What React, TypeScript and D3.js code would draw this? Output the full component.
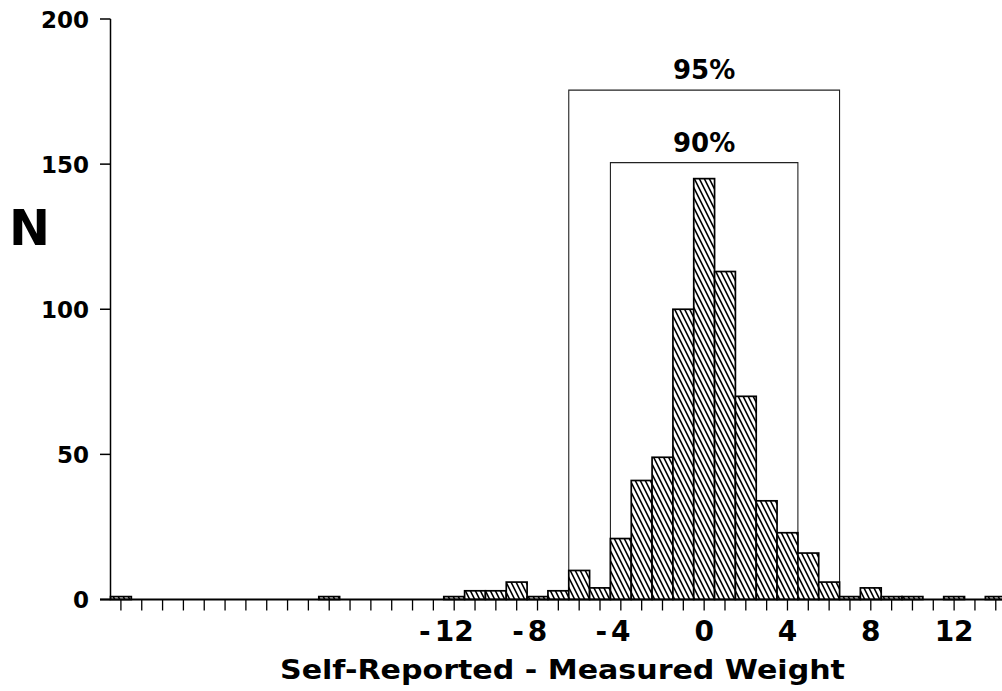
import React from "react";
import * as d3 from "d3";

// ---- data ----
const binCenters = [-28, -18, -12, -11, -10, -9, -8, -7, -6, -5, -4, -3, -2, -1, 0, 1, 2, 3, 4, 5, 6, 7, 8, 9, 10, 12, 14];
const counts = [1, 1, 1, 3, 3, 6, 1, 3, 10, 4, 21, 41, 49, 100, 145, 113, 70, 34, 23, 16, 6, 1, 4, 1, 1, 1, 1];

const xMinorTicks = d3.range(-28, 15);
const xTickLabels = [-12, -8, -4, 0, 4, 8, 12];
const yTicks = [0, 50, 100, 150, 200];

const intervalLabels = ["95%", "90%"];
const intervalLow = [-6.5, -4.5];
const intervalHigh = [6.5, 4.5];
const intervalTop = [175.5, 150.5];

const xTitle = "Self-Reported - Measured Weight";
const yTitle = "N";

const W = 1002;
const H = 691;
const FONT = "'DejaVu Sans', 'Liberation Sans', Arial, sans-serif";

export default function App() {
  const x = d3.scaleLinear().domain([-28.5, 14.5]).range([110.5, 110.5 + 43 * 20.83]);
  const y = d3.scaleLinear().domain([0, 200]).range([599.5, 19]);
  const base = y(0);

  const digitW = 0.696 * 28;

  return (
    <svg
      width={W}
      height={H}
      style={{ position: "absolute", left: 0, top: 0, background: "#fff" }}
      fontFamily={FONT}
    >
      <defs>
        <pattern id="hatch" patternUnits="userSpaceOnUse" width={5} height={10}>
          <rect width={5} height={10} fill="#fff" />
          <path
            d="M-2.5,-5 L7.5,15 M-7.5,-5 L2.5,15 M2.5,-5 L12.5,15"
            stroke="#000"
            strokeWidth={1.6}
          />
        </pattern>
      </defs>
      <rect width={W} height={H} fill="#fff" />

      {/* interval brackets */}
      {intervalLabels.map((lab, i) => {
        const x0 = x(intervalLow[i]);
        const x1 = x(intervalHigh[i]);
        const yt = y(intervalTop[i]);
        return (
          <g key={lab}>
            <path
              d={`M${x0},${base} L${x0},${yt} L${x1},${yt} L${x1},${base}`}
              fill="none"
              stroke="#222"
              strokeWidth={1.1}
            />
            <text
              x={(x0 + x1) / 2}
              y={yt - 11}
              textAnchor="middle"
              fontSize={26}
              fontWeight="bold"
            >
              {lab}
            </text>
          </g>
        );
      })}

      {/* bars */}
      {binCenters.map((c, i) => (
        <rect
          key={c}
          x={x(c - 0.5)}
          y={y(counts[i])}
          width={x(c + 0.5) - x(c - 0.5)}
          height={base - y(counts[i])}
          fill="url(#hatch)"
          stroke="#000"
          strokeWidth={1.7}
        />
      ))}

      {/* y axis */}
      <line x1={110.5} x2={110.5} y1={y(200)} y2={base} stroke="#000" strokeWidth={1.5} />
      {yTicks.map((t) => (
        <g key={t}>
          <line x1={100} x2={110.5} y1={y(t)} y2={y(t)} stroke="#000" strokeWidth={1.5} />
          <text x={89} y={y(t) + 8.5} textAnchor="end" fontSize={23} fontWeight="bold">
            {t}
          </text>
        </g>
      ))}

      {/* x axis */}
      <line x1={100} x2={W} y1={base} y2={base} stroke="#000" strokeWidth={1.8} />
      {xMinorTicks.map((t) => (
        <line key={t} x1={x(t)} x2={x(t)} y1={base} y2={base + 11} stroke="#000" strokeWidth={1.3} />
      ))}
      {xTickLabels.map((t) => {
        const s = String(Math.abs(t));
        const left = x(t) - (s.length * digitW) / 2;
        return (
          <g key={t}>
            <text x={x(t)} y={641} textAnchor="middle" fontSize={28} fontWeight="bold">
              {s}
            </text>
            {t < 0 && (
              <text x={left - 4} y={641} textAnchor="end" fontSize={28} fontWeight="bold">
                -
              </text>
            )}
          </g>
        );
      })}

      {/* titles */}
      <text
        x={562.5}
        y={679}
        textAnchor="middle"
        fontSize={27}
        fontWeight="bold"
        textLength={565}
        lengthAdjust="spacingAndGlyphs"
      >
        {xTitle}
      </text>
      <text x={9} y={245} fontSize={49} fontWeight="bold">
        {yTitle}
      </text>
    </svg>
  );
}
